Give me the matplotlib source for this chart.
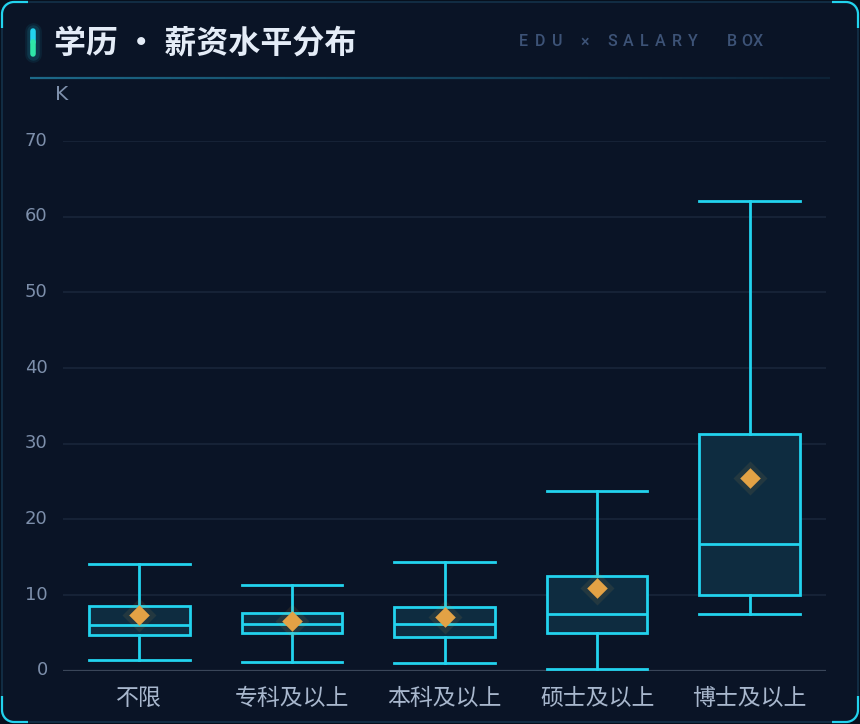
import matplotlib
matplotlib.use("Agg")
import numpy as np
from matplotlib import pyplot as plt
from matplotlib.patches import FancyBboxPatch, Arc
from matplotlib.collections import LineCollection
import matplotlib.transforms as mtrans

plt.rcParams['font.family'] = ['Noto Sans CJK SC', 'DejaVu Sans']

# data (K)
categories = ["不限", "专科及以上", "本科及以上", "硕士及以上", "博士及以上"]
whislo = [1.4, 1.15, 1.0, 0.2, 7.5]
q1 = [4.7, 4.95, 4.4, 5.0, 10.0]
med = [6.0, 6.2, 6.2, 7.5, 16.8]
q3 = [8.55, 7.6, 8.4, 12.5, 31.3]
whishi = [14.1, 11.3, 14.3, 23.8, 62.1]
means = [7.35, 6.55, 7.05, 10.9, 25.4]
yticks = [0, 10, 20, 30, 40, 50, 60, 70]

BG = "#0a1426"
CYAN = "#22d3ee"
W, H = 860, 724

fig = plt.figure(figsize=(W / 100, H / 100), dpi=100)
fig.patch.set_facecolor("#07101d")

# overlay in pixel coords for decoration
ov = fig.add_axes([0, 0, 1, 1])
ov.set_xlim(0, W); ov.set_ylim(H, 0); ov.axis("off")
ov.add_patch(FancyBboxPatch((2, 2), W - 4, H - 4, boxstyle="round,pad=0,rounding_size=12",
                            fc=BG, ec="#14324a", lw=1.2))
# corner accents
for (cx, cy, sx, sy) in [(2, 2, 1, 1), (W - 2, 2, -1, 1), (2, H - 2, 1, -1), (W - 2, H - 2, -1, -1)]:
    ov.plot([cx + sx * 12, cx + sx * 26], [cy, cy], color=CYAN, lw=1.6, solid_capstyle="butt")
    ov.plot([cx, cx], [cy + sy * 12, cy + sy * 26], color=CYAN, lw=1.6, solid_capstyle="butt")
    th1 = {(1, 1): 180, (-1, 1): 270, (1, -1): 90, (-1, -1): 0}[(sx, sy)]
    ov.add_patch(Arc((cx + sx * 12, cy + sy * 12), 24, 24, theta1=th1, theta2=th1 + 90,
                     color=CYAN, lw=1.6))

# title accent bar with glow
for lw, a in [(12, 0.08), (9, 0.12)]:
    ov.plot([33, 33], [31, 54], color=CYAN, lw=lw, alpha=a, solid_capstyle="round")
ov.plot([33, 33], [31, 42], color="#22d3ee", lw=4, solid_capstyle="round")
ov.plot([33, 33], [42, 54], color="#2ee6a8", lw=4, solid_capstyle="round")

ov.text(54, 44, "学历 • 薪资水平分布", fontsize=23, fontweight="bold", color="#e4ecf7",
        va="center", ha="left")

sub = "EDU×SALARYBOX"
sub_x = [519, 535, 552, 580, 607, 623, 640, 655, 672, 688, 727, 741, 753]
for ch, x in zip(sub, sub_x):
    ov.text(x, 42, ch, fontsize=11.5, fontweight="medium", color="#3d5377", va="center",
            ha="left", family="Roboto")

# separator line fading right
xs = np.linspace(30, 830, 120)
segs = [[(xs[i], 78), (xs[i + 1], 78)] for i in range(len(xs) - 1)]
alph = np.linspace(0.9, 0.15, len(segs))
cols = [(0.12, 0.45, 0.58, a) for a in alph]
ov.add_collection(LineCollection(segs, colors=cols, lw=1.6))

ov.text(55, 95, "K", fontsize=14.5, color="#7d8fab", va="center", ha="left", family="DejaVu Sans")

# main plot
left, right = 63 / W, 826 / W
bottom = (H - 670.7) / H
top = (H - 141) / H
ax = fig.add_axes([left, bottom, right - left, top - bottom])
ax.set_facecolor("none")
ax.set_xlim(-0.5, len(categories) - 0.5)
ax.set_ylim(0, 70)
for s in ax.spines.values():
    s.set_visible(False)
for t in yticks[1:]:
    ax.axhline(t, color="#19263a", lw=1.2, zorder=0)
ax.axhline(0, color="#3a4659", lw=1.6, zorder=0)

stats = []
for i, c in enumerate(categories):
    stats.append(dict(label=c, whislo=whislo[i], q1=q1[i], med=med[i], q3=q3[i],
                      whishi=whishi[i], mean=means[i], fliers=[]))

pos = np.arange(len(categories))
ax.bxp(stats, positions=pos, widths=0.66, patch_artist=True, showmeans=False, capwidths=0.66,
       boxprops=dict(facecolor="#0e2c40", edgecolor=CYAN, lw=2.0),
       medianprops=dict(color=CYAN, lw=2.0),
       whiskerprops=dict(color=CYAN, lw=2.0),
       capprops=dict(color=CYAN, lw=2.0))

# mean diamonds with soft glow
ax.scatter(pos, means, marker="D", s=300, color="#e3a245", alpha=0.10, zorder=4, lw=0)
ax.scatter(pos, means, marker="D", s=110, color="#e3a245", zorder=5, lw=0)

ax.set_yticks(yticks)
ax.set_xticks(pos)
ax.set_xticklabels(categories, fontsize=16.5, color="#a8b7cd")
ax.tick_params(axis="x", length=0, pad=12)
ax.tick_params(axis="y", length=0, pad=11, labelsize=13, labelcolor="#7d8fab")

fig.canvas.draw()
off = mtrans.ScaledTranslation(0, 2.5 / 100, fig.dpi_scale_trans)
for lab in ax.get_yticklabels():
    lab.set_family("DejaVu Sans")
    lab.set_transform(lab.get_transform() + off)

fig.savefig("out.png", dpi=100, facecolor=fig.get_facecolor())
